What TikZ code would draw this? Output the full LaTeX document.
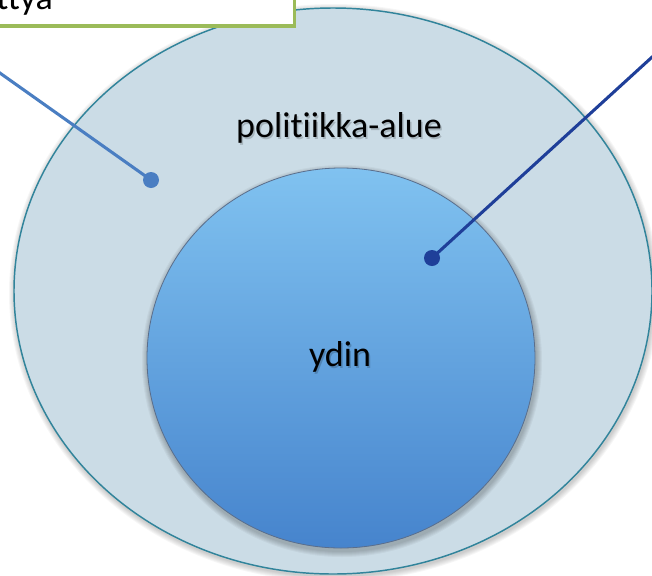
\documentclass[tikz,border=0pt]{standalone}
\usepackage{fontspec}
\setmainfont{Carlito}[Ligatures=NoCommon]
\usetikzlibrary{shapes.geometric}
\definecolor{outerfill}{RGB}{203,220,230}
\definecolor{outerline}{RGB}{49,132,155}
\definecolor{innertop}{RGB}{128,194,240}
\definecolor{innerbot}{RGB}{70,132,205}
\definecolor{innerline}{RGB}{90,110,140}
\definecolor{boxgreen}{RGB}{155,187,89}
\definecolor{lineone}{RGB}{74,126,194}
\definecolor{linetwo}{RGB}{31,63,153}
\tikzset{
  lbl/.style={font=\fontsize{27}{32}\selectfont, text=black, inner sep=0pt},
  lblshadow/.style={font=\fontsize{27}{32}\selectfont, text=black, opacity=0.18, inner sep=0pt},
  conn/.style={line width=2.3pt},
  dotmark/.style={circle, inner sep=0pt, minimum size=12pt}
}
\begin{document}
\begin{tikzpicture}[x=0.75pt,y=-0.75pt]
\useasboundingbox (0,0) rectangle (652,575);
\clip (0,0) rectangle (652,575);
% soft shadows
\foreach \k in {1,...,6}{
  \fill[black, opacity=0.035] (334,293) ellipse [x radius=319+\k, y radius=283+\k];
}
% outer ellipse
\node[ellipse, draw=outerline, line width=1.1pt, fill=outerfill,
      minimum width=478.5pt, minimum height=424.5pt, inner sep=0pt] (outer) at (333,291) {};
% inner shadow
\foreach \k in {1,...,6}{
  \fill[black, opacity=0.04] (342,361) ellipse [x radius=194+\k, y radius=190+\k];
}
% inner circle
\node[ellipse, draw=innerline, line width=0.6pt, top color=innertop, bottom color=innerbot,
      minimum width=291pt, minimum height=285pt, inner sep=0pt] (inner) at (341,358) {};
% labels
\node[lblshadow] (polaluesh) at (340.5,130) {politiikka-alue};
\node[lbl] (polalue) at (339,128) {politiikka-alue};
\node[lblshadow] (ydinsh) at (341.5,359) {ydin};
\node[lbl] (ydin) at (340,357) {ydin};
% callout box (cut off at the top)
\node[rectangle, draw=boxgreen, line width=2.4pt, fill=white,
      minimum width=236pt, minimum height=49.5pt, inner sep=0pt] (box) at (137,-7) {};
\node[font=\fontsize{27}{32}\selectfont, anchor=base west, inner sep=0pt] (boxtext) at (-4,9) {ttyä};
% dots and connectors
\node[dotmark, fill=lineone] (dot1) at (151,180) {};
\node[dotmark, fill=linetwo] (dot2) at (432,258) {};
\coordinate (src1) at (-10,66);
\coordinate (src2) at (662,48);
\draw[conn, lineone] (src1) -- (dot1.center);
\draw[conn, linetwo] (src2) -- (dot2.center);
\end{tikzpicture}
\end{document}
